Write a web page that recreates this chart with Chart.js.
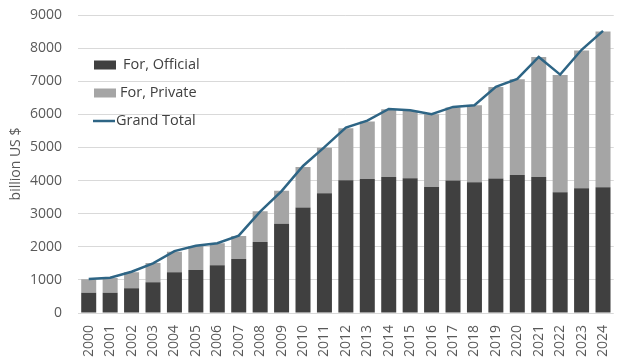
<!DOCTYPE html>
<html>
<head>
<meta charset="utf-8">
<script src="https://cdn.jsdelivr.net/npm/chart.js@4/dist/chart.umd.min.js"></script>
<style>
  html, body { margin: 0; padding: 0; background: #ffffff; }
  #wrap { width: 624px; height: 361px; position: relative; }
</style>
</head>
<body>
<div id="wrap"><canvas id="c" width="624" height="361"></canvas></div>
<script>
const years = ['2000','2001','2002','2003','2004','2005','2006','2007','2008','2009','2010','2011','2012','2013','2014','2015','2016','2017','2018','2019','2020','2021','2022','2023','2024'];
const official = [613, 610, 746, 927, 1230, 1299, 1441, 1631, 2145, 2698, 3190, 3616, 4010, 4045, 4105, 4070, 3806, 4000, 3949, 4060, 4169, 4109, 3646, 3767, 3798];
const privateVals = [405, 447, 484, 583, 622, 725, 665, 695, 927, 992, 1221, 1378, 1570, 1735, 2049, 2033, 2197, 2203, 2325, 2768, 2891, 3625, 3544, 4158, 4701];
const grandTotal = [1025, 1065, 1245, 1500, 1870, 2030, 2106, 2335, 3060, 3680, 4440, 5010, 5600, 5810, 6163, 6123, 6003, 6224, 6274, 6828, 7070, 7734, 7200, 7950, 8520];
const yTicks = [0, 1000, 2000, 3000, 4000, 5000, 6000, 7000, 8000, 9000];

const FONT = "'Open Sans', 'Liberation Sans', sans-serif";
const TXT = '#595959';

const legendPlugin = {
  id: 'insideLegend',
  afterDraw(chart) {
    const ctx = chart.ctx;
    const ds = chart.data.datasets;
    const items = [
      { i: 0, y: 65, type: 'box', tx: 123 },
      { i: 1, y: 93, type: 'box', tx: 120 },
      { i: 2, y: 121, type: 'line', tx: 116 }
    ];
    ctx.save();
    ctx.font = '14.5px ' + FONT;
    ctx.textBaseline = 'middle';
    items.forEach(it => {
      const d = ds[it.i];
      if (it.type === 'box') {
        ctx.fillStyle = d.backgroundColor;
        ctx.fillRect(94, it.y - 4.5, 22, 9);
      } else {
        ctx.strokeStyle = d.borderColor;
        ctx.lineWidth = 2.5;
        ctx.beginPath();
        ctx.moveTo(93, it.y);
        ctx.lineTo(115, it.y);
        ctx.stroke();
      }
      ctx.fillStyle = '#404040';
      ctx.fillText(d.label, it.tx, it.y);
    });
    ctx.restore();
  }
};

new Chart(document.getElementById('c'), {
  type: 'bar',
  data: {
    labels: years,
    datasets: [
      { label: 'For, Official', data: official, backgroundColor: '#404040', stack: 'bars', order: 2,
        categoryPercentage: 1.0, barPercentage: 0.7 },
      { label: 'For, Private', data: privateVals, backgroundColor: '#A5A5A5', stack: 'bars', order: 2,
        categoryPercentage: 1.0, barPercentage: 0.7 },
      { label: 'Grand Total', data: grandTotal, type: 'line', stack: 'line', order: 0,
        borderColor: '#2E6585', backgroundColor: '#2E6585', borderWidth: 2.5,
        pointRadius: 0, tension: 0, fill: false }
    ]
  },
  options: {
    responsive: false,
    animation: false,
    layout: { padding: { left: 0, right: 9, top: 15, bottom: 0 } },
    plugins: {
      legend: { display: false },
      tooltip: { enabled: false }
    },
    scales: {
      x: {
        stacked: true,
        grid: { display: false },
        border: { display: false },
        ticks: {
          color: TXT, font: { family: FONT, size: 14 },
          minRotation: 90, maxRotation: 90, padding: 4, autoSkip: false
        },
        afterFit(scale) { scale.height = 48; }
      },
      y: {
        stacked: true,
        min: 0, max: 9000,
        afterBuildTicks(scale) { scale.ticks = yTicks.map(v => ({ value: v })); },
        grid: { color: '#D9D9D9', lineWidth: 1, drawTicks: true, tickLength: 13, tickColor: 'rgba(0,0,0,0)' },
        border: { display: false },
        ticks: { color: TXT, font: { family: FONT, size: 14 }, padding: 3,
          callback: (v) => String(v) },
        title: { display: true, text: 'billion US $', color: TXT, font: { family: FONT, size: 14 }, padding: { top: 8, bottom: 0 } },
        afterFit(scale) { scale.width = 78; }
      }
    }
  },
  plugins: [legendPlugin]
});
</script>
</body>
</html>
